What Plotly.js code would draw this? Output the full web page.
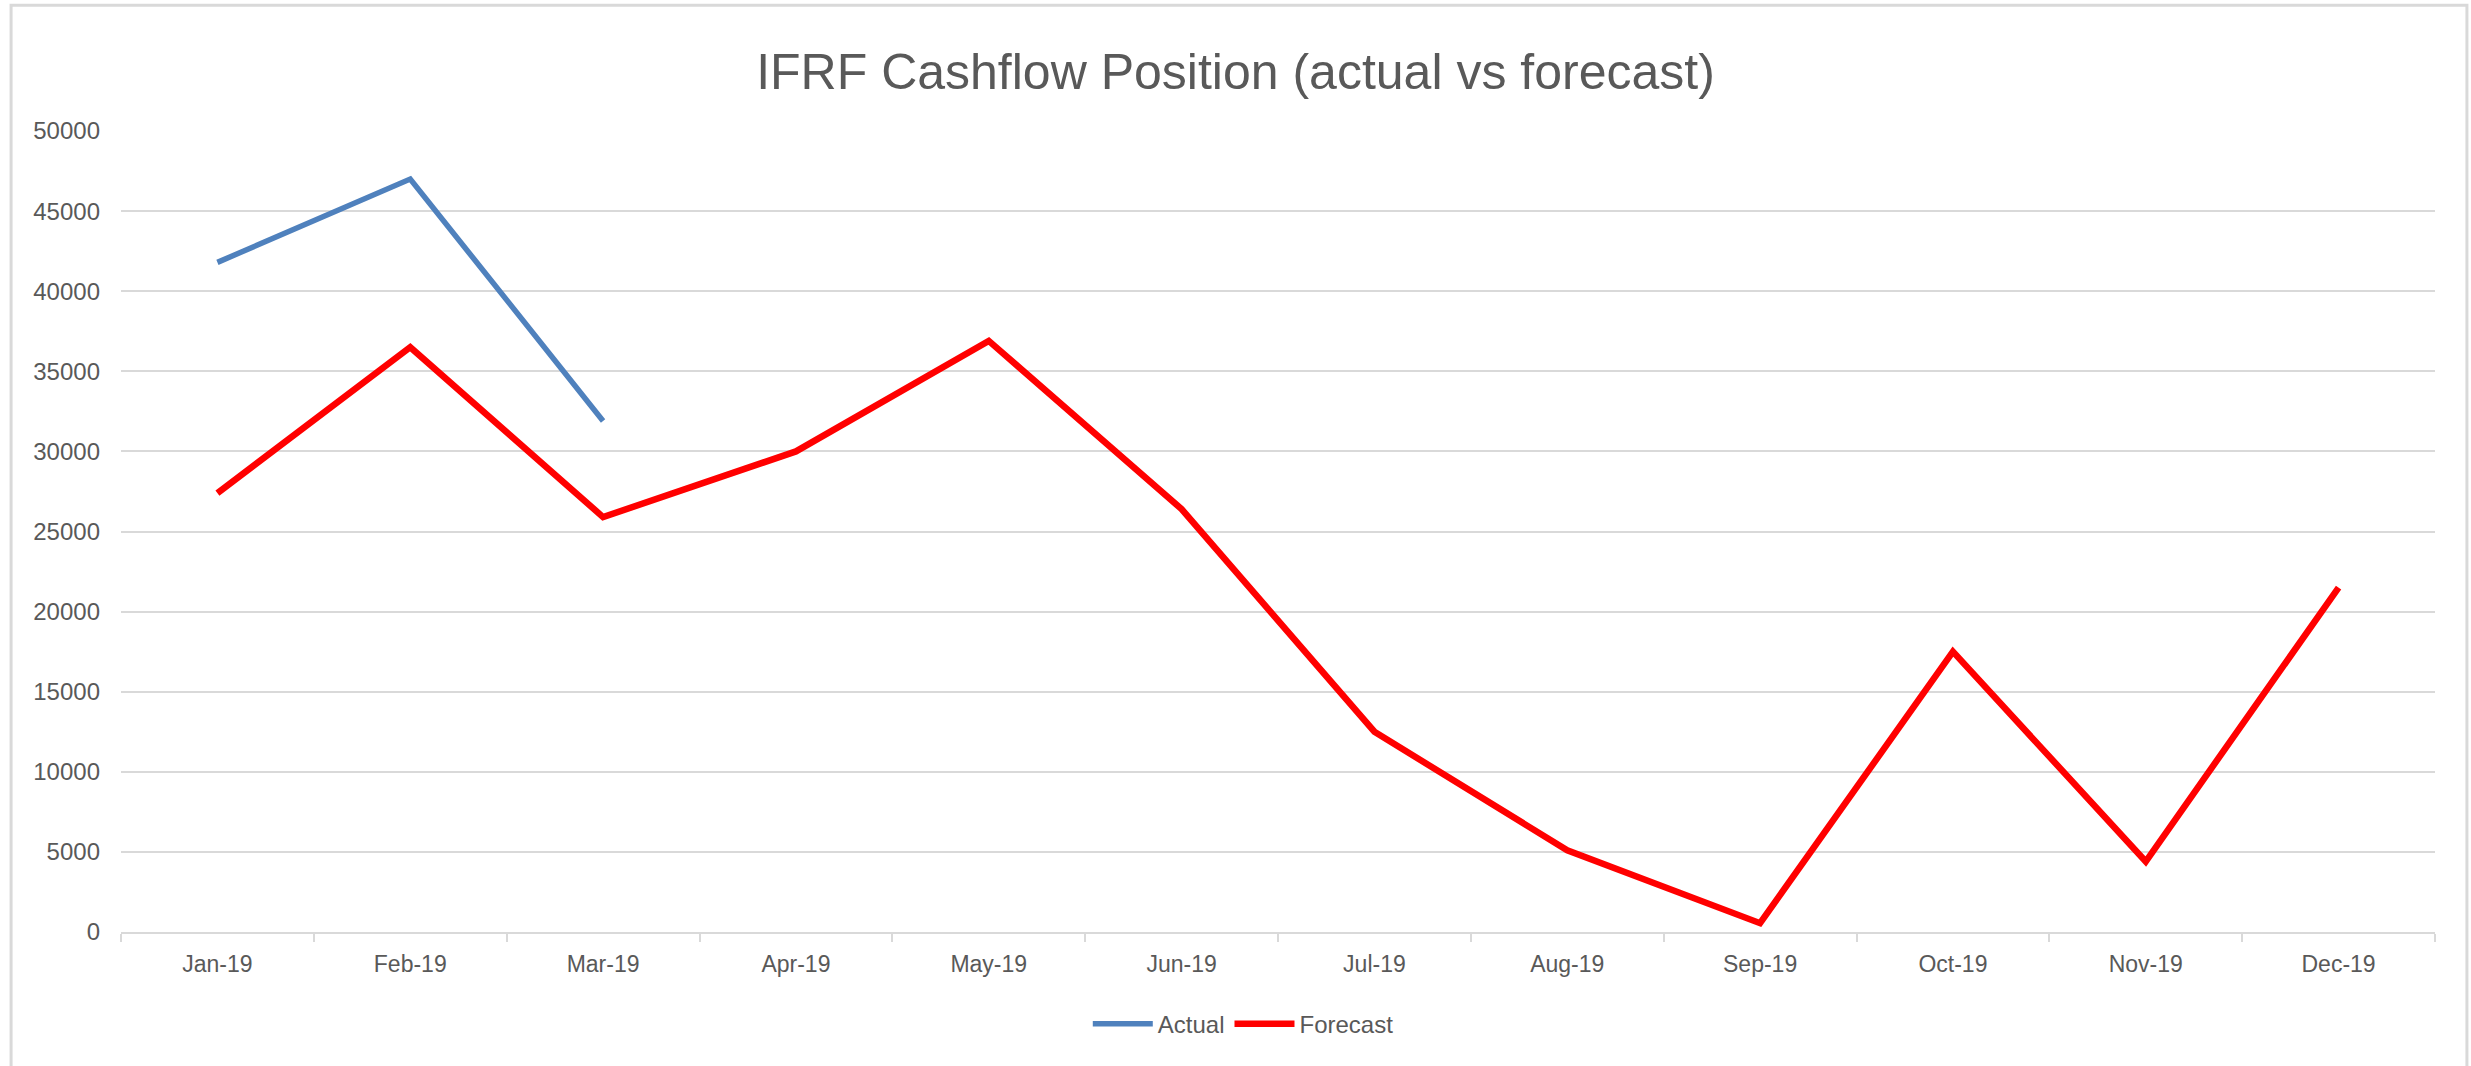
<!DOCTYPE html>
<html>
<head>
<meta charset="utf-8">
<script src="https://cdn.plot.ly/plotly-3.0.1.min.js"></script>
<style>
  html, body { margin: 0; padding: 0; background: #ffffff; }
  #chart { width: 2471px; height: 1066px; }
</style>
</head>
<body>
<div id="chart"></div>
<script>
// Months on the x axis
var months = ["Jan-19", "Feb-19", "Mar-19", "Apr-19", "May-19", "Jun-19",
              "Jul-19", "Aug-19", "Sep-19", "Oct-19", "Nov-19", "Dec-19"];

// Actual cashflow (only first quarter reported)
var actualMonths = ["Jan-19", "Feb-19", "Mar-19"];
var actualValues = [41800, 47000, 31900];

// Forecast cashflow
var forecastValues = [27400, 36500, 25900, 30000, 36900, 26400,
                      12500, 5100, 550, 17500, 4400, 21500];

var yTicks = [0, 5000, 10000, 15000, 20000, 25000, 30000, 35000, 40000, 45000, 50000];

var textGrey = "#595959";
var gridGrey = "#d9d9d9";
var font = "Liberation Sans, Arial, sans-serif";

var actual = {
    x: actualMonths,
    y: actualValues,
    name: "Actual",
    type: "scatter",
    mode: "lines",
    line: {color: "#4f81bd", width: 5.5}
};

var forecast = {
    x: months,
    y: forecastValues,
    name: "Forecast",
    type: "scatter",
    mode: "lines",
    line: {color: "#ff0000", width: 6.5}
};

var layout = {
    width: 2471,
    height: 1066,
    margin: {l: 121, r: 36, t: 131, b: 134},
    paper_bgcolor: "#ffffff",
    plot_bgcolor: "#ffffff",
    font: {family: font, color: textGrey},
    title: {
        text: "IFRF Cashflow Position (actual vs forecast)",
        font: {family: font, size: 50, color: textGrey},
        x: 0.5, xanchor: "center",
        y: 0.933, yanchor: "middle", yref: "container"
    },
    xaxis: {
        type: "category",
        categoryarray: months,
        range: [-0.5, 11.5],
        showgrid: false,
        showline: true,
        linecolor: gridGrey,
        linewidth: 2,
        ticks: "outside",
        tickson: "boundaries",
        ticklen: 8,
        tickwidth: 2,
        tickcolor: gridGrey,
        ticklabelstandoff: 10,
        tickfont: {family: font, size: 23, color: textGrey},
        zeroline: false,
        fixedrange: true
    },
    yaxis: {
        range: [0, 50000],
        tickvals: yTicks,
        ticktext: yTicks.map(String),
        showgrid: true,
        gridcolor: gridGrey,
        gridwidth: 2,
        zeroline: false,
        showline: false,
        ticks: "",
        ticklabelstandoff: 20,
        tickfont: {family: font, size: 24, color: textGrey},
        fixedrange: true
    },
    showlegend: true,
    legend: {
        orientation: "h",
        x: 0.485, xanchor: "center",
        y: -0.115, yanchor: "middle",
        font: {family: font, size: 24, color: textGrey},
        itemwidth: 60,
        traceorder: "normal"
    },
    shapes: [{
        // chart frame
        type: "rect", xref: "paper", yref: "paper",
        x0: -0.0475, x1: 1.0138, y0: -0.2, y1: 1.157,
        line: {color: gridGrey, width: 3},
        layer: "below"
    }]
};

Plotly.newPlot("chart", [actual, forecast], layout, {displayModeBar: false, staticPlot: true});
</script>
</body>
</html>
